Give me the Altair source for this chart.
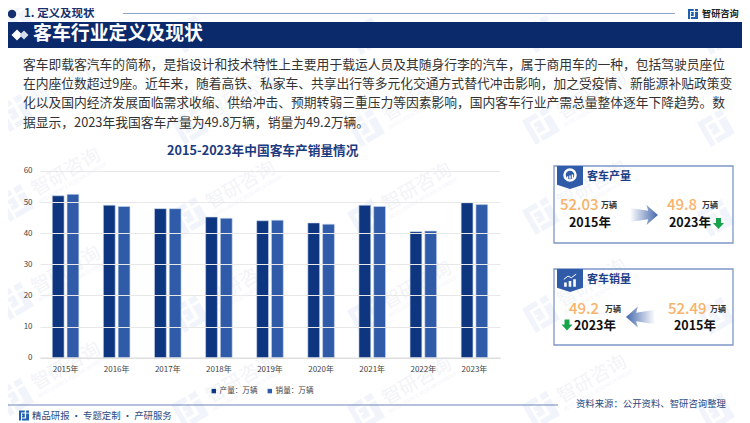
import altair as alt
import pandas as pd

years = ["2015年","2016年","2017年","2018年","2019年","2020年","2021年","2022年","2023年"]
production = [52.03,49.0,47.9,45.2,44.0,43.3,49.0,40.5,49.8]
sales = [52.49,48.6,47.9,44.8,44.2,42.9,48.6,40.7,49.2]
series_names = ["产量：万辆","销量：万辆"]
series_colors = ["#0d3580","#2f5ba8"]

body_lines = [
 "客车即载客汽车的简称，是指设计和技术特性上主要用于载运人员及其随身行李的汽车，属于商用车的一种，包括驾驶员座位",
 "在内座位数超过9座。近年来，随着高铁、私家车、共享出行等多元化交通方式替代冲击影响，加之受疫情、新能源补贴政策变",
 "化以及国内经济发展面临需求收缩、供给冲击、预期转弱三重压力等因素影响，国内客车行业产需总量整体逐年下降趋势。数",
 "据显示，2023年我国客车产量为49.8万辆，销量为49.2万辆。",
]
FONT = "Noto Sans CJK SC"
OX, OY, PW, PH = 40, 171, 460, 186.7
px = lambda x: x - OX
py = lambda y: y - OY
one = alt.Data(values=[{"a": 1}])
layers = []

def text(s, x, y, size, color="#333333", weight="normal", align="left", angle=None):
    kw = dict(text=s, fontSize=size, color=color, fontWeight=weight, align=align, baseline="middle", font=FONT)
    if angle is not None:
        kw["angle"] = angle
    layers.append(alt.Chart(one).mark_text(**kw).encode(x=alt.value(px(x)), y=alt.value(py(y))))

def rect(x1, y1, x2, y2, fill=None, stroke=None, sw=1):
    kw = {}
    kw["fill"] = fill if fill else "transparent"
    if stroke:
        kw["stroke"] = stroke
        kw["strokeWidth"] = sw
    layers.append(alt.Chart(one).mark_rect(**kw).encode(
        x=alt.value(px(x1)), x2=alt.value(px(x2)), y=alt.value(py(y1)), y2=alt.value(py(y2))))

def sym(shape, x, y, width, fill=None, stroke=None, sw=1, angle=None):
    kw = dict(shape=shape, size=width * width, opacity=1)
    if fill is not None:
        kw["filled"] = True
        kw["fill"] = fill
        kw["strokeWidth"] = 0
    else:
        kw["filled"] = False
        kw["stroke"] = stroke
        kw["strokeWidth"] = sw
    if angle is not None:
        kw["angle"] = angle
    layers.append(alt.Chart(one).mark_point(**kw).encode(x=alt.value(px(x)), y=alt.value(py(y))))

LOGO = ("M-1,-1 H0.15 V-0.62 H-0.6 V1 H-1 Z "
        "M-0.42,-0.42 H0.15 V0.38 H-0.42 V0.02 H-0.2 V-0.1 H-0.42 Z "
        "M0.42,-1 H1 V-0.55 H0.42 Z "
        "M0.42,-0.38 H1 V1 H-0.42 V0.6 H0.42 Z")
PENT = "M-1,-0.88 H1 V0.55 L0,0.88 L-1,0.55 Z"
ARROW_R = "M-1,-0.5 L0.3,-0.3 L0.18,-0.72 L1,0 L0.18,0.72 L0.3,0.3 L-1,0.5 Z"
ARROW_L = "M1,-0.5 L-0.3,-0.3 L-0.18,-0.72 L-1,0 L-0.18,0.72 L-0.3,0.3 L1,0.5 Z"
DOWN = "M-0.45,-1 H0.45 V-0.1 H1 L0,1 L-1,-0.1 H-0.45 Z"
BARS = "M-0.9,0.9 V0.25 H-0.5 V0.9 Z M-0.2,0.9 V0 H0.2 V0.9 Z M0.5,0.9 V-0.25 H0.9 V0.9 Z"
ZIG = "M-0.95,-0.1 L-0.3,-0.6 L0.2,-0.35 L0.95,-0.9"

# watermarks
wm_cols = [66, 241, 417, 592, 767]
wm_col_dy = [0, 13, 15, 13, 15]
wm_rows = [-10, 82, 172, 270, 366]
for cx, dy in zip(wm_cols, wm_col_dy):
    for ry in wm_rows:
        cy = ry + dy
        sym(LOGO, cx - 51, cy + 31, 28, fill="#f1f5fb", angle=330)
        if cx < 700 and ry > 0:
            text("智研咨询", cx, cy, 19, color="#f2f4f8", align="center", angle=330)
            text("INTELLIGENCE RESEARCH GROUP", cx + 6, cy + 11, 5, color="#f2f4f8", align="center", angle=330)

# bars
df = pd.DataFrame({"year": years * 2,
                   "series": [series_names[0]] * 9 + [series_names[1]] * 9,
                   "value": production + sales})
bars = alt.Chart(df).mark_bar(stroke="#c9d6ec", strokeWidth=0.6).encode(
    x=alt.X("year:N", sort=years, title=None,
            scale=alt.Scale(paddingInner=0.48, paddingOuter=0.24),
            axis=alt.Axis(labelAngle=0, labelFont=FONT, labelFontSize=8, labelColor="#444444",
                          domainColor="#dddddd", domainWidth=1.2, ticks=False, labelPadding=8,
                          grid=False, zindex=1)),
    xOffset=alt.XOffset("series:N", sort=series_names, scale=alt.Scale(paddingInner=0.2)),
    y=alt.Y("value:Q", title=None, scale=alt.Scale(domain=[0, 60], nice=False),
            axis=alt.Axis(values=[0,10,20,30,40,50,60], labelFont=FONT, labelFontSize=8, labelColor="#444444",
                          domain=False, ticks=False, labelPadding=8, grid=True, gridColor="#e8e8e8",
                          gridWidth=1.2, zindex=1)),
    color=alt.Color("series:N", sort=series_names, title=None,
                    scale=alt.Scale(domain=series_names, range=series_colors),
                    legend=alt.Legend(orient="none", legendX=170, legendY=216, direction="horizontal",
                                      symbolType="square", symbolSize=20, symbolStrokeWidth=0,
                                      labelFont=FONT, labelFontSize=7.6, labelColor="#444444", labelOffset=2,
                                      columnPadding=8, padding=0)),
)
layers.append(bars)

# header (the canvas starts 8px down the page, so it sits just under that edge)
sym("circle", 12, 14, 8.5, fill="#14306f")
text("1. 定义及现状", 24, 14.5, 11.5, color="#14306f", weight="bold")
rect(123, 13, 675, 14, fill="#8fa3cc")
sym(LOGO, 693, 14, 10, fill="#1f5fb0")
text("智研咨询", 702, 14, 9.2, color="#222222", weight="bold")

# banner
rect(7, 22, 744, 48, fill="#0b2a6b")
sym("diamond", 17, 35, 11, fill="#ffffff")
sym("diamond", 24, 35, 9, fill="#d5dcea")
text("客车行业定义及现状", 33, 34.5, 18.9, color="#ffffff", weight="bold")

# body
for i, line in enumerate(body_lines):
    text(line, 23, 65 + i * 19.2, 12.78, color="#333333")

# chart title
text("2015-2023年中国客车产销量情况", 167, 151, 12.7, color="#1b3b80", weight="bold")

# panel 1
rect(554, 166, 733, 243, stroke="#7f97c7", sw=1.3)
sym(PENT, 570, 177.5, 26, fill="#2f5ba8")
sym("circle", 570, 175, 11, stroke="#ffffff", sw=2.5)
sym(BARS, 570, 175.5, 7, fill="#ffffff")
text("客车产量", 587, 177, 11, color="#1c3f88", weight="bold")
text("52.03", 560, 205, 15, color="#f9b26a", weight=500)
text("万辆", 601, 206, 8, color="#333333", weight="bold")
text("2015年", 569, 223, 12.5, color="#111111", weight="bold")
sym(ARROW_R, 644, 215, 28, fill=alt.LinearGradient(gradient="linear", x1=0, x2=1, y1=0, y2=0,
    stops=[alt.GradientStop(offset=0, color="#ffffff"), alt.GradientStop(offset=1, color="#4468ad")]))
text("49.8", 667, 205, 15, color="#f9b26a", weight=500)
text("万辆", 702, 206, 8, color="#333333", weight="bold")
text("2023年", 669, 223, 12.5, color="#111111", weight="bold")
sym(DOWN, 718.5, 223.5, 11, fill="#17a34a")

# panel 2
rect(554, 269, 733, 345, stroke="#7f97c7", sw=1.3)
sym(PENT, 570, 280.5, 26, fill="#2f5ba8")
sym(BARS, 570, 281, 13, fill="#ffffff")
sym(ZIG, 570, 280, 13, stroke="#ffffff", sw=1)
text("客车销量", 587, 280, 11, color="#1c3f88", weight="bold")
text("49.2", 569, 309, 15, color="#f9b26a", weight=500)
text("万辆", 605, 310, 8, color="#333333", weight="bold")
sym(DOWN, 567, 325, 11, fill="#17a34a")
text("2023年", 574, 326, 12.5, color="#111111", weight="bold")
sym(ARROW_L, 640.5, 317, 29, fill=alt.LinearGradient(gradient="linear", x1=0, x2=1, y1=0, y2=0,
    stops=[alt.GradientStop(offset=0, color="#4468ad"), alt.GradientStop(offset=1, color="#ffffff")]))
text("52.49", 668, 309, 15, color="#f9b26a", weight=500)
text("万辆", 710, 310, 8, color="#333333", weight="bold")
text("2015年", 674, 326, 12.5, color="#111111", weight="bold")

# footer
rect(7, 404.5, 558, 405.5, fill="#6f86b8")
sym(LOGO, 24, 415.5, 10, fill="#1f5fb0")
text("精品研报 · 专题定制 · 产研服务", 32, 416, 9.4, color="#2c4a80")
text("资料来源：公开资料、智研咨询整理", 576, 404, 9.4, color="#2c4a80")

chart = alt.layer(*layers).properties(
    width=PW, height=PH,
    padding={"left": 32, "top": 163, "right": 242, "bottom": 65},
    autosize=alt.AutoSizeParams(type="none"),
    background="#ffffff",
).configure_view(stroke=None, clip=False)

chart.save("out.html", embed_options={"renderer": "svg", "actions": False})
